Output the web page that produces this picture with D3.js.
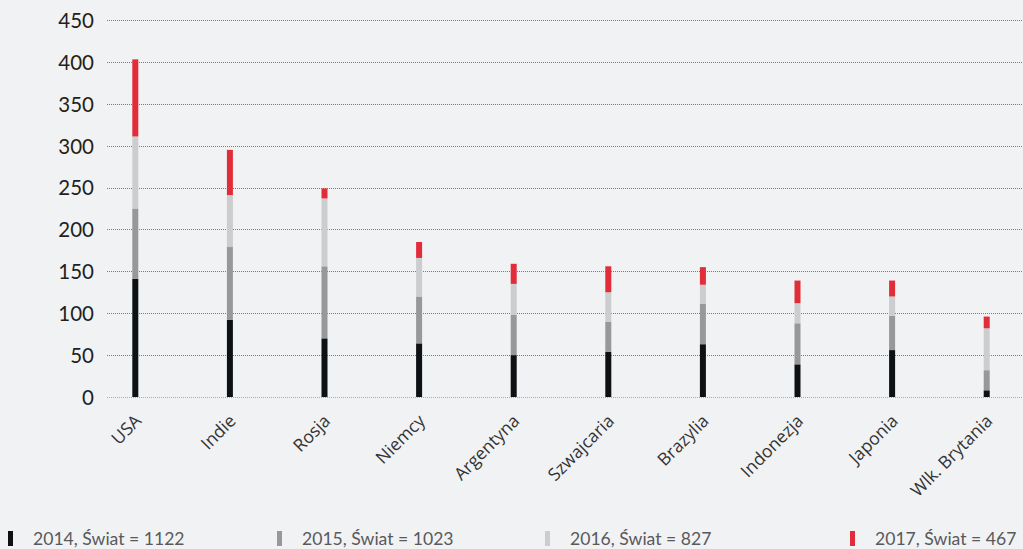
<!DOCTYPE html>
<html>
<head>
<meta charset="utf-8">
<script src="https://cdn.jsdelivr.net/npm/d3@7"></script>
<style>
  html, body { margin: 0; padding: 0; background: #f1f2f4; }
  svg { display: block; }
</style>
</head>
<body>
<svg id="chart" width="1023" height="549"></svg>
<script>
// Countries and yearly values
const countries = ["USA", "Indie", "Rosja", "Niemcy", "Argentyna", "Szwajcaria", "Brazylia", "Indonezja", "Japonia", "Wlk. Brytania"];
const years = ["2014", "2015", "2016", "2017"];
const values2014 = [141, 92, 70, 64, 50, 54, 63, 39, 56, 8];
const values2015 = [84, 87, 86, 56, 48, 36, 48, 49, 41, 24];
const values2016 = [86, 62, 81, 46, 37, 35, 23, 24, 23, 50];
const values2017 = [92, 54, 12, 19, 24, 31, 21, 27, 19, 14];
const worldTotals = [1122, 1023, 827, 467];
const yTicks = [0, 50, 100, 150, 200, 250, 300, 350, 400, 450];
const colors = ["#0d1114", "#97989a", "#cbcdce", "#e12d39"];

const series = [values2014, values2015, values2016, values2017];
const rows = countries.map((c, i) => {
  const r = { country: c };
  years.forEach((y, k) => { r[y] = series[k][i]; });
  return r;
});

const svg = d3.select("#chart");
const plotLeft = 107, plotRight = 1023, yTop = 20, yBottom = 397;

const x = d3.scaleBand()
  .domain(countries)
  .range([88, 1034])
  .paddingInner(0)
  .paddingOuter(0);

const y = d3.scaleLinear().domain([0, 450]).range([yBottom, yTop]);

// Gridlines
svg.append("g")
  .selectAll("line")
  .data(yTicks)
  .join("line")
  .attr("x1", plotLeft).attr("x2", plotRight)
  .attr("y1", d => Math.round(y(d)) + 0.5).attr("y2", d => Math.round(y(d)) + 0.5)
  .attr("stroke", d => d === 0 ? "#a9a9a9" : "#7a7a7a")
  .attr("stroke-width", 1)
  .attr("stroke-dasharray", "1,1");

// Y axis labels
const yAxis = d3.axisLeft(y).tickValues(yTicks).tickSize(0).tickPadding(0);
const gy = svg.append("g").attr("transform", "translate(94,0)").call(yAxis);
gy.select(".domain").remove();
gy.selectAll("text")
  .attr("font-family", "Lato, 'Noto Sans', sans-serif")
  .attr("font-size", 20.5)
  .attr("fill", "#231f20")
  .attr("dy", "0.36em");

// Stacked bars
const stack = d3.stack().keys(years)(rows);
const barW = 6;
svg.append("g")
  .selectAll("g")
  .data(stack)
  .join("g")
  .attr("fill", (d, i) => colors[i])
  .selectAll("rect")
  .data(d => d)
  .join("rect")
  .attr("x", d => x(d.data.country) + x.bandwidth() / 2 - barW / 2)
  .attr("width", barW)
  .attr("y", d => y(d[1]))
  .attr("height", d => y(d[0]) - y(d[1]));

// X axis labels, rotated
const xAxis = d3.axisBottom(x).tickSize(0).tickPadding(0);
const gx = svg.append("g").attr("transform", `translate(0,${yBottom})`).call(xAxis);
gx.select(".domain").remove();
gx.selectAll("text")
  .attr("font-family", "'Open Sans', sans-serif")
  .attr("font-size", 17.5)
  .attr("fill", "#333")
  .attr("text-anchor", "end")
  .attr("dy", "0")
  .attr("transform", "translate(7,25) rotate(-45)");

// Legend
const legendX = [8, 277, 545, 850];
const items = svg.append("g")
  .selectAll("g")
  .data(years)
  .join("g")
  .attr("transform", (d, i) => `translate(${legendX[i]},0)`);
items.append("rect")
  .attr("x", 0).attr("y", 531)
  .attr("width", 5).attr("height", 15)
  .attr("fill", (d, i) => colors[i]);
items.append("text")
  .attr("x", 25).attr("y", 545)
  .attr("font-family", "Lato, 'Noto Sans', sans-serif")
  .attr("font-size", 17.6)
  .attr("fill", "#58595b")
  .text((d, i) => `${d}, Świat = ${worldTotals[i]}`);
</script>
</body>
</html>
